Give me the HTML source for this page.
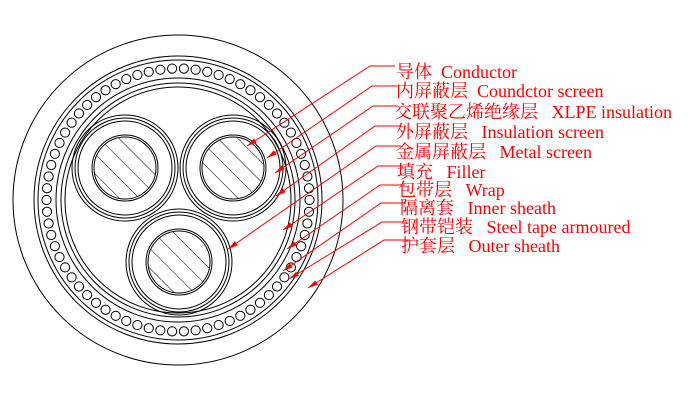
<!DOCTYPE html>
<html><head><meta charset="utf-8"><style>
html,body{margin:0;padding:0;background:#fff}
svg{display:block}
text{font-family:"Liberation Serif","Noto Serif CJK SC",serif;font-size:18px;fill:#f00;white-space:pre}
</style></head><body>
<svg width="690" height="407" viewBox="0 0 690 407" xmlns="http://www.w3.org/2000/svg" xml:space="preserve">
<defs>
<pattern id="h" patternUnits="userSpaceOnUse" width="14" height="14" patternTransform="rotate(-45)">
<line x1="0" y1="0" x2="0" y2="14" stroke="#000" stroke-width="1"/>
</pattern>
</defs>
<g fill="none" stroke="#000" stroke-width="1">
<circle cx="178" cy="200" r="165"/>
<circle cx="178" cy="200" r="144"/>
<circle cx="178" cy="200" r="140"/>
<circle cx="178" cy="200" r="122"/>
<circle cx="178" cy="200" r="117"/>
<circle cx="178" cy="200" r="113"/>
<g id="beads"></g>
<g id="cores"></g>
</g>
<g stroke="#f00" stroke-width="1" fill="none" id="lead"></g>
<g fill="#f00" id="heads"></g>
<text x="396" y="78">导体  Conductor</text>
<text x="396" y="97">内屏蔽层  Coundctor screen</text>
<text x="394" y="118">交联聚乙烯绝缘层   XLPE insulation</text>
<text x="396" y="138">外屏蔽层   Insulation screen</text>
<text x="396" y="158">金属屏蔽层   Metal screen</text>
<text x="397" y="178">填充   Filler</text>
<text x="398" y="196">包带层   Wrap</text>
<text x="400" y="214">隔离套   Inner sheath</text>
<text x="401" y="233">钢带铠装   Steel tape armoured</text>
<text x="401" y="252">护套层   Outer sheath</text>
</svg>
<script>
var ns="http://www.w3.org/2000/svg";
function el(t,a,p){var e=document.createElementNS(ns,t);for(var k in a)e.setAttribute(k,a[k]);p.appendChild(e);return e;}
var b=document.getElementById('beads');
for(var i=0;i<70;i++){var a=i*2*Math.PI/70;el('circle',{cx:178+131.5*Math.cos(a),cy:200+131.5*Math.sin(a),r:4.6},b);}
var c=document.getElementById('cores');
[[125,168],[233,168],[179,262]].forEach(function(p){
[53,50,47,33].forEach(function(r){el('circle',{cx:p[0],cy:p[1],r:r},c);});
el('circle',{cx:p[0],cy:p[1],r:31,fill:'url(#h)'},c);
});
var L=document.getElementById('lead'),H=document.getElementById('heads');
var d=[[370,66,247,146],[372,86,267,158],[373,106,275,173],[375,126,276,196],[376,146,228,249],[378,166,283,230],[380,185,287,249],[381,203,283,271],[382,222,289,279],[384,240,308,288]];
d.forEach(function(q){
el('polyline',{points:(q[0]+25)+','+q[1]+' '+q[0]+','+q[1]+' '+q[2]+','+q[3]},L);
var dx=q[0]-q[2],dy=q[1]-q[3],l=Math.hypot(dx,dy);dx/=l;dy/=l;
var bx=q[2]+dx*10,by=q[3]+dy*10;
el('polygon',{points:q[2]+','+q[3]+' '+(bx-dy*2.5)+','+(by+dx*2.5)+' '+(bx+dy*2.5)+','+(by-dx*2.5)},H);
});
</script>
</body></html>
